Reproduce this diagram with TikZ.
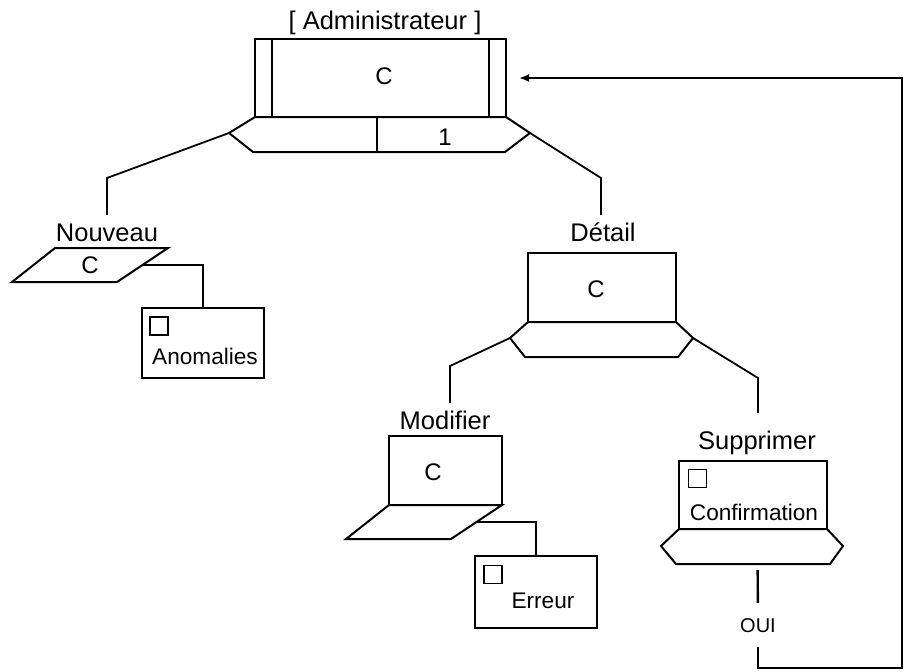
\documentclass[tikz,border=0pt]{standalone}
\usepackage{fontspec}
\setmainfont{Liberation Sans}
\usetikzlibrary{arrows.meta}

\begin{document}
\begin{tikzpicture}[x=0.5pt,y=-0.5pt,
  win/.style={draw,line width=1pt,outer sep=0pt,inner sep=0pt},
  shp/.style={line width=1pt,line join=miter},
  lettre/.style={font=\fontsize{12}{14}\selectfont},
  title/.style={font=\fontsize{12.75}{15}\selectfont,text height=9.5pt,text depth=2.5pt},
  txt/.style={font=\fontsize{11.3}{13}\selectfont,inner sep=0pt},
  chk/.style={draw,line width=0.7pt,minimum size=9pt,inner sep=0pt},
  link/.style={line width=0.9pt},
  back/.style={line width=1.2pt}]
\useasboundingbox (0,0) rectangle (910,671);

% Administrateur
\node[title] (admint) at (385,22) {[ Administrateur ]};
\node[win,minimum width=125.5pt,minimum height=39pt] (admin) at (380.5,78) {};
\node[lettre] (adminc) at (384,76) {C};
\draw[shp] ([xshift=8.5pt]admin.north west) -- ([xshift=8.5pt]admin.south west);
\draw[shp] ([xshift=-8.5pt]admin.north east) -- ([xshift=-8.5pt]admin.south east);
\draw[shp] (admin.south west) -- (admin.south east) -- ++(24,16) coordinate (adminR)
  -- ++(-25,19) -- ++(-252,0) -- ++(-24,-19) coordinate (adminL) -- cycle;
\draw[shp] ([xshift=-1.75pt]admin.south) -- ++(0,35);
\node[lettre] (adminn) at (445,137) {1};

% Nouveau
\node[title] (nouv) at (107,234) {Nouveau};
\draw[shp] (55,248) -- (168,248) -- coordinate (nouvR) (117,282) -- (12,282) -- cycle;
\node[lettre] (nouvc) at (90,265) {C};
\node[win,minimum width=61pt,minimum height=35pt] (anom) at (203,343) {};
\node[chk] (anomchk) at (159,326) {};
\node[txt] (anomt) at (205,356) {Anomalies};
\coordinate (nouvk) at (107,178);
\draw[link] (adminL) -- (nouvk) -- (nouv.north -| nouvk);
\draw[link] (nouvR) -| (anom.north);

% Detail
\node[title] (detail) at (603,234) {Détail};
\node[win,minimum width=74pt,minimum height=34.5pt] (det) at (602,287.5) {};
\node[lettre] (detc) at (596,289) {C};
\draw[shp] (det.south west) -- (det.south east) -- ++(17,16) coordinate (detR)
  -- ++(-15,19) -- ++(-153,0) -- ++(-15,-19) coordinate (detL) -- cycle;
\coordinate (detk) at (601,178);
\draw[link] (adminR) -- (detk) -- (detail.north -| detk);

% Modifier
\node[title] (modif) at (445,422) {Modifier};
\node[win,minimum width=56.5pt,minimum height=34.5pt] (mod) at (445.5,470.5) {};
\node[lettre] (modc) at (433,472) {C};
\draw[shp] (mod.south west) -- (mod.south east) -- coordinate (modR) ++(-51,34)
  -- ++(-105,0) -- cycle;
\node[win,minimum width=61pt,minimum height=36pt] (err) at (536,592) {};
\node[chk] (errchk) at (493,574.5) {};
\node[txt] (errt) at (543,601) {Erreur};
\coordinate (modk) at (450,366);
\draw[link] (detL) -- (modk) -- (modif.north -| modk);
\draw[link] (modR) -| (err.north);

% Supprimer
\node[title] (suppr) at (757,442) {Supprimer};
\node[win,minimum width=74pt,minimum height=34pt] (sup) at (753,495) {};
\draw[shp] (sup.south west) -- (sup.south east) -- ++(16,17) -- ++(-13,18)
  -- coordinate[pos=0.47] (supB) ++(-154,0) -- ++(-15,-18) -- cycle;
\node[chk] (supchk) at (697.5,478.5) {};
\node[txt] (supt) at (754,512) {Confirmation};
\coordinate (supk) at (758,378);
\draw[link,shorten >=5pt] (detR) -- (supk) -- (suppr.north -| supk);

% retour
\node[font=\fontsize{10}{12}\selectfont,text height=7.2pt,text depth=0pt,
  inner sep=3pt,outer sep=4.5pt] (oui) at (758,625) {OUI};
\coordinate (retour) at ([xshift=6.5pt]admin.east);
\draw[back,shorten <=3pt] (supB) -- (oui);
\draw[back,-{Latex[length=5pt,width=4pt]}] (oui.south) |- (902,668) |- (retour);
\end{tikzpicture}
\end{document}
